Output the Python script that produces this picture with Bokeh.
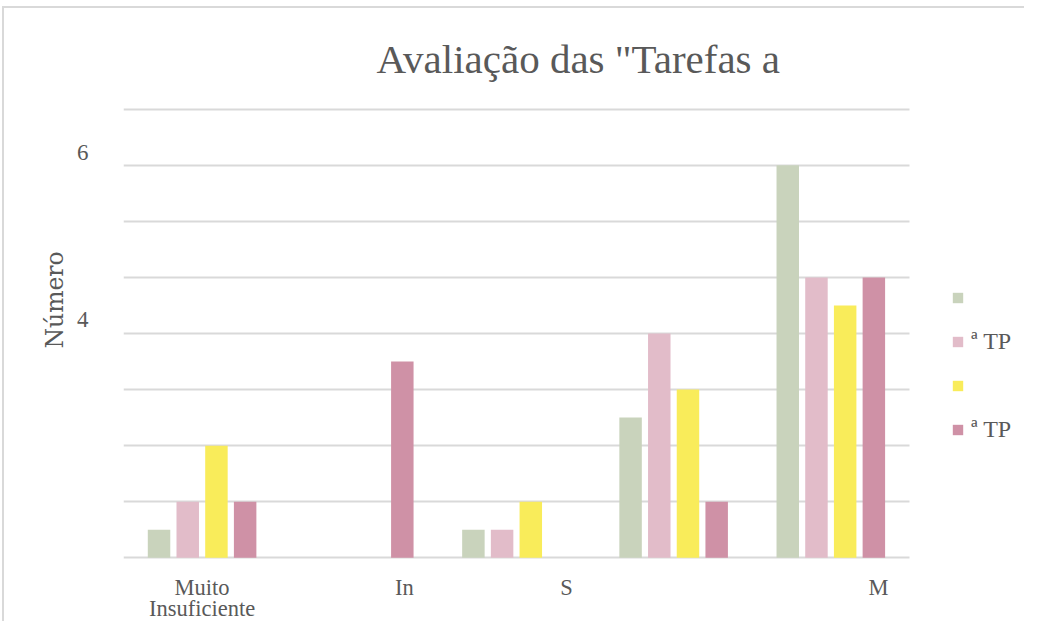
from bokeh.plotting import figure
from bokeh.models import Range1d, FixedTicker, Legend, LegendItem
from bokeh.embed import file_html
from bokeh.resources import INLINE

# ---- data ----
categories = ["Muito\nInsuficiente", "In", "S", "", "M"]
series_names = [" ", "ª TP", " ", "ª TP"]
green_vals = [0.5, 0, 0.5, 2.5, 7]
pink_vals = [1, 0, 0.5, 4, 5]
yellow_vals = [2, 0, 1, 3, 4.5]
mauve_vals = [1, 3.5, 0, 1, 5]
y_tick_labels = ["4", "6"]

# ---- layout / style constants ----
colors = ["#C9D3BC", "#E2BCC9", "#F9EC5A", "#CF91A6"]
label_x = [0.5, 1.787, 2.818, 4.803]   # where the (truncated) category labels sit
y_label_pos = [4.25, 7.22]
TEXT = "#595959"
SERIF = "Liberation Serif"
N_CAT = len(categories)

p = figure(width=1022, height=615, x_range=Range1d(0, 5.745), y_range=Range1d(-0.03, 8.03),
           output_backend="svg", toolbar_location=None,
           min_border_left=119, min_border_right=0, min_border_top=98, min_border_bottom=64)
p.styles = {"box-shadow": "-2px -2px 0 0 #D9D9D9", "margin-left": "4px", "margin-top": "8px",
            "overflow": "hidden"}
p.outline_line_color = None
p.background_fill_color = "white"
p.border_fill_color = "white"

series = [green_vals, pink_vals, yellow_vals, mauve_vals]
pitch = 0.1826
bw = 0.143
renderers = []
for k, vals in enumerate(series):
    xs = [i + 0.5 + (k - 1.5) * pitch for i in range(N_CAT)]
    r = p.vbar(x=xs, top=vals, bottom=0, width=bw, fill_color=colors[k], line_color=None)
    renderers.append(r)

# grid
p.xgrid.grid_line_color = None
p.ygrid.ticker = FixedTicker(ticks=list(range(0, 9)))
p.ygrid.grid_line_color = "#D9D9D9"
p.ygrid.grid_line_width = 2
g = p.ygrid[0]
if "cross_bounds" in g.properties():
    g.cross_bounds = (0, N_CAT)

for ax in (p.xaxis[0], p.yaxis[0]):
    ax.axis_line_color = None
    ax.major_tick_line_color = None
    ax.minor_tick_line_color = None
    ax.major_tick_out = 0
    ax.major_tick_in = 0
    ax.minor_tick_out = 0
    ax.minor_tick_in = 0

# y axis
p.yaxis.ticker = FixedTicker(ticks=y_label_pos)
p.yaxis.major_label_overrides = {y_label_pos[i]: y_tick_labels[i] for i in range(len(y_label_pos))}
p.yaxis.major_label_standoff = 35
p.yaxis.major_label_text_font = SERIF
p.yaxis.major_label_text_font_size = "23px"
p.yaxis.major_label_text_color = TEXT
p.yaxis.axis_label = "\u00a0" * 9 + "Número"
p.yaxis.axis_label_text_font = "DejaVu Serif"
p.yaxis.axis_label_text_font_size = "23.5px"
p.yaxis.axis_label_text_font_style = "normal"
p.yaxis.axis_label_text_color = TEXT
p.yaxis.axis_label_standoff = 5

# x axis
p.xaxis.ticker = FixedTicker(ticks=label_x)
p.xaxis.major_label_overrides = {label_x[i]: lab for i, lab in enumerate([categories[0], categories[1], categories[2], categories[4]])}
p.xaxis.major_label_standoff = 15
p.xaxis.axis_label_standoff = 0
p.xaxis.major_label_text_font = SERIF
p.xaxis.major_label_text_font_size = "22.5px"
p.xaxis.major_label_text_color = TEXT
p.xaxis.major_label_text_line_height = 0.85

# title
p.title.text = "Avaliação das \"Tarefas a"
p.title.align = "left"
p.title.offset = 253
p.title.standoff = 51
p.title.text_font = SERIF
p.title.text_font_size = "41px"
p.title.text_font_style = "normal"
p.title.text_color = TEXT

# legend (right of the bars, inside the extended frame)
legend = Legend(items=[LegendItem(label=series_names[k], renderers=[renderers[k]]) for k in range(4)],
                location=(828, 116), orientation="vertical")
legend.border_line_color = None
legend.background_fill_alpha = 0
legend.margin = 0
legend.padding = 0
legend.glyph_width = 13
legend.glyph_height = 13
legend.label_height = 13
legend.spacing = 24
legend.label_standoff = 7
legend.label_text_font = SERIF
legend.label_text_font_size = "24px"
legend.label_text_color = TEXT
p.add_layout(legend)

open("out.html", "w").write(file_html(p, INLINE))
